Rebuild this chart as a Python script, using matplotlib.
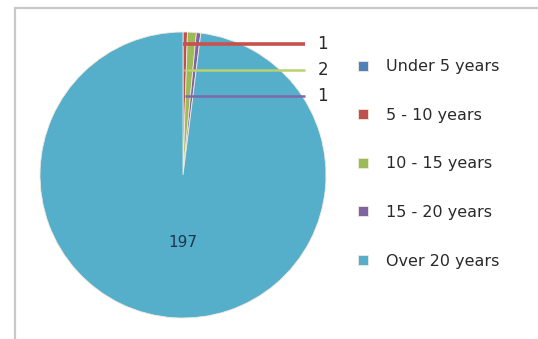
import matplotlib.pyplot as plt
import numpy as np

categories = ['Under 5 years', '5 - 10 years', '10 - 15 years', '15 - 20 years', 'Over 20 years']
counts = [0, 1, 2, 1, 197]
colors = ['#4f81bd', '#c0504d', '#9bbb59', '#8064a2', '#55afca']
leader_colors = ['#c8514d', '#b9d16e', '#7d68aa']

# label heights for the small slices (data units, radius = 1)
small_label_y = [0.916, 0.734, 0.552]

fig = plt.figure(figsize=(5.38, 3.39), dpi=100)
fig.patch.set_facecolor('white')

# outer frame
frame = plt.Rectangle((15 / 538, -0.1), 1.2, (339 - 8) / 339 + 0.1, transform=fig.transFigure,
                      fill=False, edgecolor='#c9c9c9', linewidth=1.6)
fig.patches.append(frame)

ax = fig.add_axes([40 / 538, 21 / 339, 286 / 538, 286 / 339])
wedges, _ = ax.pie(counts, colors=colors, startangle=90, counterclock=False, radius=1,
                   wedgeprops=dict(edgecolor='#f3e9dc', linewidth=0.6))
ax.set_xlim(-1, 1)
ax.set_ylim(-1, 1)
ax.set_aspect('equal')
ax.axis('off')

# leader lines + labels for the thin slices
for k, i in enumerate(range(1, 4)):
    w = wedges[i]
    mid = np.deg2rad((w.theta1 + w.theta2) / 2)
    x0 = np.cos(mid) * 0.1
    y = small_label_y[k]
    ax.plot([x0, 0.853], [y, y], color=leader_colors[k], linewidth=2.6 if i == 1 else 1.8,
            solid_capstyle='butt', clip_on=False)
    ax.text(0.94, y, str(counts[i]), ha='left', va='center', fontsize=12,
            color='#2a2a2a', clip_on=False)

ax.text(0, -0.47, str(counts[4]), ha='center', va='center', fontsize=11, color='#1d3550')

leg = fig.legend(wedges, categories, loc='upper left', bbox_to_anchor=(352 / 538, 1 - 53 / 339),
                 frameon=False, fontsize=11.5, handlelength=0.6, handleheight=0.6,
                 handletextpad=1.1, labelspacing=2.1, borderaxespad=0)
for t in leg.get_texts():
    t.set_color('#2a2a2a')

fig.savefig('out.png', dpi=100)
plt.close()
